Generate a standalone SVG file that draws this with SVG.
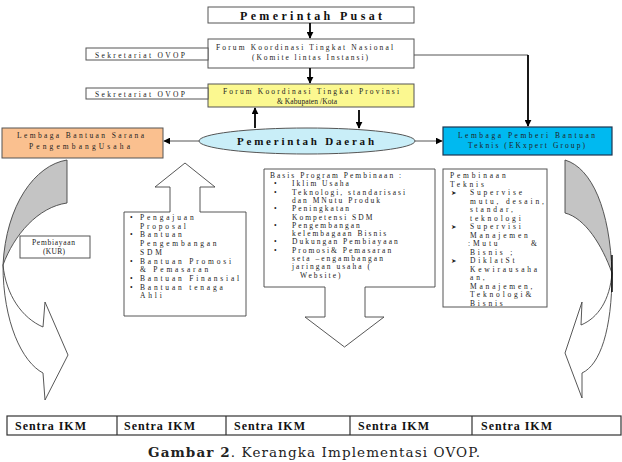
<svg xmlns="http://www.w3.org/2000/svg" width="622" height="462" viewBox="0 0 622 462">
<defs>
<style>
.box{fill:#fff;stroke:#555;stroke-width:1}
.t{font-family:"Liberation Serif","Times New Roman",serif;font-size:7.5px;fill:#222}
.b{font-weight:bold;fill:#111}
.k{stroke:#000;stroke-width:1.8;fill:none}
.thin{stroke:#555;stroke-width:1;fill:none}
.sh{fill:#fff;stroke:#444;stroke-width:0.9}
.gr{fill:#c4c4c4;stroke:#444;stroke-width:0.9}
.dg{font-family:"DejaVu Sans",sans-serif;font-size:6.5px;fill:#222}
.sk{font-family:"Liberation Serif","Times New Roman",serif;font-weight:bold;font-size:12px;fill:#111}
</style>
<marker id="ah" viewBox="0 0 10 10" refX="9" refY="5" markerWidth="7" markerHeight="7" markerUnits="userSpaceOnUse" orient="auto">
<path d="M0,0 L10,5 L0,10 z" fill="#000"/>
</marker>
<clipPath id="clipTek"><rect x="443" y="169" width="104" height="138"/></clipPath>
</defs>
<rect width="622" height="462" fill="#fff"/>

<g id="pemerintah-pusat">
<rect class="box" x="208" y="7" width="206" height="16"/>
<text class="t b" x="240" y="19.5" style="font-size:12px" textLength="142" lengthAdjust="spacing">Pemerintah Pusat</text>
</g>

<g id="forum-nasional">
<rect class="box" x="208" y="39" width="206" height="29"/>
<text class="t" x="216" y="50" textLength="177" lengthAdjust="spacing">Forum Koordinasi Tingkat Nasional</text>
<text class="t" x="252" y="60" textLength="116" lengthAdjust="spacing">(Komite lintas Instansi)</text>
</g>

<g id="sekretariat-1">
<rect class="box" x="86" y="48" width="122" height="12"/>
<text class="t" x="95" y="57.5" textLength="90" lengthAdjust="spacing">Sekretariat OVOP</text>
</g>

<g id="forum-provinsi">
<rect x="208" y="84" width="206" height="23" fill="#fbf890" stroke="#555"/>
<text class="t" x="223" y="94" textLength="176" lengthAdjust="spacing">Forum Koordinasi Tingkat Provinsi</text>
<text class="t" x="277" y="104" textLength="60" lengthAdjust="spacing">&amp; Kabupaten /Kota</text>
</g>

<g id="sekretariat-2">
<rect class="box" x="86" y="88" width="122" height="11"/>
<text class="t" x="95" y="97" textLength="90" lengthAdjust="spacing">Sekretariat OVOP</text>
</g>

<g id="lembaga-bantuan-sarana">
<rect x="2" y="128" width="161" height="30" fill="#fac08f" stroke="#555"/>
<text class="t" x="17" y="138" textLength="127" lengthAdjust="spacing">Lembaga Bantuan Sarana</text>
<text class="t" x="29" y="149" textLength="101" lengthAdjust="spacing">PengembangUsaha</text>
</g>

<g id="pemerintah-daerah">
<ellipse cx="307" cy="141" rx="108" ry="13" fill="#c9eef8" stroke="#555"/>
<text class="t b" x="237" y="145" style="font-size:11px" textLength="137" lengthAdjust="spacing">Pemerintah Daerah</text>
</g>

<g id="lembaga-pemberi-bantuan">
<rect x="443" y="127" width="169" height="28" fill="#00b9f0" stroke="#1c3550" stroke-width="1.2"/>
<text class="t" x="458" y="137.5" textLength="137" lengthAdjust="spacing">Lembaga Pemberi Bantuan</text>
<text class="t" x="468" y="148" textLength="117" lengthAdjust="spacing">Teknis (EKxpert Group)</text>
</g>

<g id="connectors">
<path class="k" d="M310,23 V38" marker-end="url(#ah)"/>
<path class="k" d="M310,68 V83" marker-end="url(#ah)"/>
<path class="thin" d="M414,55 H528"/>
<path class="k" d="M528,55 V126" stroke-width="2.6" marker-end="url(#ah)"/>
<path class="thin" d="M199,141 H164" marker-end="url(#ah)"/>
<path class="thin" d="M415,141 H442" marker-end="url(#ah)"/>
<path class="k" d="M255,128 V108" marker-end="url(#ah)"/>
<path class="k" d="M359,110 V128" marker-end="url(#ah)"/>
</g>

<g id="curved-arrow-left">
<path class="gr" d="M67,160 C35,165 6,205 3,265 C14,235 38,207 67,203 Z"/>
<path class="sh" d="M3,265 C3,322 22,362 43,373 L45,400 L68,355 L45,302 L43,327 C22,318 6,295 3,265 Z"/>
</g>

<g id="curved-arrow-right">
<path class="gr" d="M565,160 C592,168 610,210 612,273 C602,245 585,218 565,213 Z"/>
<path class="sh" d="M612,273 C612,330 600,365 582,373 L582,398 L565,353 L582,302 L581,325 C598,318 610,300 612,273 Z"/>
<path d="M612,255 V292" stroke="#000" stroke-width="1.4"/>
</g>

<g id="pembiayaan">
<rect class="box" x="20" y="236" width="70" height="22"/>
<text class="t" x="32" y="245" textLength="43" lengthAdjust="spacing">Pembiayaan</text>
<text class="t" x="43" y="254" textLength="22" lengthAdjust="spacing">(KUR)</text>
</g>

<g id="bantuan-callout">
<path class="sh" d="M124,212 H170 V187 H155 L185,163 L215,187 H200 V212 H246 V316 H124 Z"/>
<g class="t" letter-spacing="2.8">
<text x="130" y="220">•</text><text x="140" y="220">Pengajuan</text>
<text x="140" y="228.7">Proposal</text>
<text x="130" y="237.4">•</text><text x="140" y="237.4">Bantuan</text>
<text x="140" y="246.1">Pengembangan</text>
<text x="140" y="254.8">SDM</text>
<text x="130" y="263.5">•</text><text x="140" y="263.5">Bantuan Promosi</text>
<text x="140" y="272.2">&amp; Pemasaran</text>
<text x="130" y="280.9">•</text><text x="140" y="280.9">Bantuan Finansial</text>
<text x="130" y="289.6">•</text><text x="140" y="289.6">Bantuan tenaga</text>
<text x="140" y="298.3">Ahli</text>
</g>
</g>

<g id="basis-program">
<path class="sh" d="M264,169 H435 V287 H365 V317 H384 L344.5,347 L305,317 H325 V287 H264 Z"/>
<g class="t" letter-spacing="2">
<text x="270" y="178">Basis Program Pembinaan :</text>
<text x="274" y="186.3">•</text><text x="292" y="186.3">Iklim Usaha</text>
<text x="274" y="194.6">•</text><text x="292" y="194.6">Teknologi, standarisasi</text>
<text x="292" y="202.9">dan MNutu Produk</text>
<text x="274" y="211.2">•</text><text x="292" y="211.2">Peningkatan</text>
<text x="292" y="219.5">Kompetensi SDM</text>
<text x="274" y="227.8">•</text><text x="292" y="227.8">Pengembangan</text>
<text x="292" y="236.1">kelembagaan Bisnis</text>
<text x="274" y="244.4">•</text><text x="292" y="244.4">Dukungan Pembiayaan</text>
<text x="274" y="252.7">•</text><text x="292" y="252.7">Promosi&amp; Pemasaran</text>
<text x="292" y="261">seta –engambangan</text>
<text x="292" y="269.3">jaringan usaha (</text>
<text x="300" y="277.6">Website)</text>
</g>
</g>

<g id="pembinaan-teknis">
<rect class="box" x="443" y="169" width="104" height="138"/>
<g clip-path="url(#clipTek)">
<g class="t" letter-spacing="2.8">
<text x="450" y="178">Pembinaan</text>
<text x="450" y="186.5">Teknis</text>
<text x="470" y="195">Supervise</text>
<text x="470" y="203.5">mutu, desain,</text>
<text x="470" y="212">standar,</text>
<text x="470" y="220.5">teknologi</text>
<text x="470" y="229">Supervisi</text>
<text x="470" y="237.5">Manajemen</text>
<text x="468" y="246">:Mutu</text><text x="531" y="246">&amp;</text>
<text x="470" y="254.5">Bisnis ;</text>
<text x="470" y="263">DiklatSt</text>
<text x="470" y="271.5">Kewirausaha</text>
<text x="470" y="280">an,</text>
<text x="470" y="288.5">Manajemen,</text>
<text x="470" y="297">Teknologi&amp;</text>
<text x="470" y="305.5">Bisnis</text>
</g>
<text class="dg" x="451" y="195">➤</text>
<text class="dg" x="451" y="229">➤</text>
<text class="dg" x="451" y="263">➤</text>
</g>
</g>

<g id="sentra-ikm">
<rect x="7" y="416" width="614" height="19" fill="#fff" stroke="#333" stroke-width="1.2"/>
<path d="M117,416 V435 M226,416 V435 M350,416 V435 M472,416 V435" stroke="#333" stroke-width="1.2"/>
<text class="sk" x="15" y="429.5" textLength="71" lengthAdjust="spacing">Sentra IKM</text>
<text class="sk" x="124" y="429.5" textLength="71" lengthAdjust="spacing">Sentra IKM</text>
<text class="sk" x="234" y="429.5" textLength="71" lengthAdjust="spacing">Sentra IKM</text>
<text class="sk" x="358" y="429.5" textLength="71" lengthAdjust="spacing">Sentra IKM</text>
<text class="sk" x="481" y="429.5" textLength="71" lengthAdjust="spacing">Sentra IKM</text>
</g>

<text x="148" y="457" font-family="DejaVu Serif, 'Liberation Serif', serif" font-size="13.5" fill="#222" textLength="332" lengthAdjust="spacing"><tspan font-weight="bold">Gambar 2</tspan>.  Kerangka Implementasi OVOP.</text>
</svg>
